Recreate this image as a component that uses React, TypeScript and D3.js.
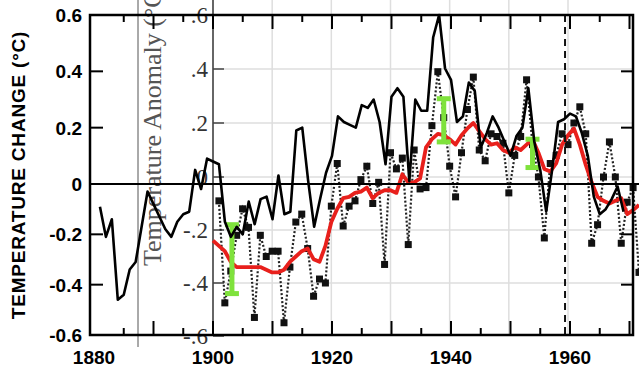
import * as d3 from "d3";
import { useEffect, useRef } from "react";

// chart 1: temperature change (deg C), yearly line
const changeYears = d3.range(1881, 1970);
const changeValues = [
  -0.09, -0.21, -0.14, -0.46, -0.44, -0.34, -0.31, -0.17, -0.03,
  -0.08, -0.13, -0.18, -0.21, -0.15, -0.12, -0.11, 0.05, -0.02, 0.09,
  0.08, 0.07, -0.15, -0.21, -0.17, -0.2, -0.07, -0.16, -0.06, -0.05,
  -0.14, 0.03, -0.12, -0.11, 0.19, 0.2, 0.01, -0.17, -0.06, 0.04,
  0.1, 0.24, 0.22, 0.21, 0.2, 0.28, 0.27, 0.3, 0.22, 0.07,
  0.31, 0.34, 0.31, 0.01, 0.3, 0.26, 0.26, 0.52, 0.6, 0.41,
  0.37, 0.22, 0.24, 0.36, 0.33, 0.13, 0.18, 0.24, 0.2, 0.15,
  0.1, 0.17, 0.2, 0.34, 0.15, 0.05, -0.11, 0.05, 0.22, 0.23,
  0.25, 0.24, 0.18, 0.1, -0.05, -0.12, -0.1, -0.06, -0.01, -0.11,
];
const changeTicks = [-0.6, -0.4, -0.2, 0, 0.2, 0.4, 0.6];
const changeLabels = ["-0.6", "-0.4", "-0.2", "0", "0.2", "0.4", "0.6"];
const yearLabels = [1880, 1900, 1920, 1940, 1960];

// chart 2: temperature anomaly, annual points + running mean
const annualYears = d3.range(1901, 1973);
const annualValues = [
  -0.09, -0.475, -0.355, -0.22, -0.12, -0.19, -0.53, -0.22, -0.3,
  -0.28, -0.28, -0.55, -0.34, -0.17, -0.14, -0.27, -0.45, -0.385, -0.4,
  -0.11, 0.05, -0.185, -0.11, -0.09, -0.01, 0.04, -0.1, -0.02, -0.33,
  0.09, 0.03, 0.07, -0.255, 0.1, -0.045, -0.04, 0.19, 0.39, 0.22,
  0.04, -0.075, 0.09, 0.25, 0.37, 0.1, 0.06, 0.16, 0.15, 0.125,
  -0.06, 0.08, 0.15, 0.36, 0.12, 0.0, -0.23, 0.05, 0.08, 0.16,
  0.12, 0.2, 0.26, 0.16, -0.25, -0.18, 0.0, 0.13, 0.0, -0.25,
  -0.095, -0.04, -0.36,
];
const meanYears = d3.range(1900, 1973);
const meanValues = [
  -0.24, -0.26, -0.28, -0.32, -0.34, -0.34, -0.34, -0.34, -0.34, -0.35,
  -0.36, -0.36, -0.35, -0.32, -0.3, -0.28, -0.27, -0.31, -0.32, -0.26,
  -0.17, -0.12, -0.08, -0.075, -0.06, -0.055, -0.04, -0.08, -0.06, -0.05,
  -0.05, -0.06, 0.01, -0.02, -0.02, -0.005, 0.11, 0.14, 0.16, 0.155,
  0.14, 0.12, 0.155, 0.18, 0.2, 0.17, 0.14, 0.12, 0.125, 0.1,
  0.09, 0.11, 0.1, 0.12, 0.14, 0.09, 0.03, 0.02, 0.05, 0.12,
  0.155, 0.18, 0.12, 0.045, -0.02, -0.075, -0.09, -0.1, -0.09, -0.08,
  -0.14, -0.125, -0.105,
];
const errorYears = [1903.2, 1939, 1954];
const errorLow = [-0.44, 0.13, 0.035];
const errorHigh = [-0.18, 0.29, 0.14];
const anomalyTicks = [-0.6, -0.4, -0.2, 0, 0.2, 0.4, 0.6];
const anomalyLabels = ["-.6", "-.4", "-.2", "0", ".2", ".4", ".6"];
const gridYears = [1910, 1920, 1930, 1940, 1950, 1960];
const markerYear = 1959.5;

export default function App() {
  const ref = useRef<SVGSVGElement>(null);

  useEffect(() => {
    document.body.style.margin = "0";
    const svg = d3.select(ref.current);
    svg.selectAll("*").remove();

    const x1 = d3.scaleLinear().domain([1880, 1960]).range([94, 570]);
    const y1 = d3.scaleLinear().domain([-0.6, 0, 0.6]).range([335, 184, 15]);
    const x2 = d3.scaleLinear().domain([1900, 1960]).range([213, 568]);
    const y2 = d3.scaleLinear().domain([-0.6, 0, 0.6]).range([336, 177, 15]);

    const left = 90, right = 633;
    const top = y1(0.6), bottom = y1(-0.6);

    // --- overlay chart (behind) ---
    const grid = svg.append("g").attr("stroke", "#dedede").attr("stroke-width", 1.5);
    grid.selectAll("line.v").data(gridYears).enter().append("line")
      .attr("x1", d => x2(d)).attr("x2", d => x2(d))
      .attr("y1", 0).attr("y2", y2(-0.6));
    grid.selectAll("line.h").data([-0.4, -0.2, 0, 0.2, 0.4]).enter().append("line")
      .attr("x1", x2(1900)).attr("x2", right)
      .attr("y1", d => y2(d)).attr("y2", d => y2(d));

    svg.append("line")
      .attr("x1", 138).attr("x2", 138).attr("y1", 0).attr("y2", 347)
      .attr("stroke", "#555").attr("stroke-width", 1);

    svg.append("line")
      .attr("x1", x2(1900)).attr("x2", x2(1900)).attr("y1", 0).attr("y2", y2(-0.6))
      .attr("stroke", "#333").attr("stroke-width", 1.5);
    svg.append("g").selectAll("line").data(anomalyTicks).enter().append("line")
      .attr("x1", x2(1900)).attr("x2", x2(1900) + 11)
      .attr("y1", d => y2(d)).attr("y2", d => y2(d))
      .attr("stroke", "#444").attr("stroke-width", 1.5);

    svg.append("g")
      .attr("font-family", "'Liberation Serif', 'DejaVu Serif', serif")
      .attr("font-size", 23)
      .attr("fill", "#333")
      .attr("text-anchor", "end")
      .selectAll("text").data(anomalyTicks).enter().append("text")
      .attr("x", 208)
      .attr("y", d => y2(d))
      .attr("dy", "0.35em")
      .text((d, i) => anomalyLabels[i]);

    svg.append("text")
      .attr("transform", "translate(161,266) rotate(-90)")
      .attr("font-family", "'Liberation Serif', 'DejaVu Serif', serif")
      .attr("font-size", 26)
      .attr("fill", "#555")
      .text("Temperature Anomaly (°C)");

    const dotted = d3.line<number>()
      .x((d, i) => x2(annualYears[i]))
      .y(d => y2(d));
    svg.append("path")
      .attr("d", dotted(annualValues))
      .attr("fill", "none")
      .attr("stroke", "#222")
      .attr("stroke-width", 2.2)
      .attr("stroke-dasharray", "2,2");
    svg.append("g").selectAll("rect").data(annualValues).enter().append("rect")
      .attr("x", (d, i) => x2(annualYears[i]) - 3.5)
      .attr("y", d => y2(d) - 3.5)
      .attr("width", 7).attr("height", 7)
      .attr("fill", "#111");

    const mean = d3.line<number>()
      .x((d, i) => x2(meanYears[i]))
      .y(d => y2(d));
    svg.append("path")
      .attr("d", mean(meanValues))
      .attr("fill", "none")
      .attr("stroke", "#e8201c")
      .attr("stroke-width", 3.8)
      .attr("stroke-linejoin", "round");

    const bars = svg.append("g").attr("stroke", "#7fe23c").attr("stroke-width", 5);
    errorYears.forEach((yr, i) => {
      const cx = x2(yr);
      bars.append("line").attr("x1", cx).attr("x2", cx)
        .attr("y1", y2(errorLow[i])).attr("y2", y2(errorHigh[i]));
      [errorLow[i], errorHigh[i]].forEach(v => {
        bars.append("line").attr("x1", cx - 7).attr("x2", cx + 7)
          .attr("y1", y2(v)).attr("y2", y2(v));
      });
    });

    svg.append("line")
      .attr("x1", x2(markerYear)).attr("x2", x2(markerYear))
      .attr("y1", top).attr("y2", bottom)
      .attr("stroke", "#111").attr("stroke-width", 2)
      .attr("stroke-dasharray", "7,5");

    // --- temperature change chart ---
    const line1 = d3.line<number>()
      .x((d, i) => x1(changeYears[i]))
      .y(d => y1(d));
    svg.append("path")
      .attr("d", line1(changeValues))
      .attr("fill", "none")
      .attr("stroke", "#000")
      .attr("stroke-width", 2.6)
      .attr("stroke-linejoin", "round");

    svg.append("line")
      .attr("x1", left).attr("x2", 639).attr("y1", y1(0)).attr("y2", y1(0))
      .attr("stroke", "#000").attr("stroke-width", 2);

    svg.append("path")
      .attr("d", `M${left},${top}V${bottom}H${right}V${top}Z`)
      .attr("fill", "none").attr("stroke", "#000").attr("stroke-width", 2.5);

    const ticks5 = d3.range(1885, 1971, 5);
    const tk = svg.append("g").attr("stroke", "#000").attr("stroke-width", 2);
    ticks5.forEach(yr => {
      const len = yr % 10 === 0 ? 14 : 7;
      tk.append("line").attr("x1", x1(yr)).attr("x2", x1(yr))
        .attr("y1", bottom).attr("y2", bottom - len);
      tk.append("line").attr("x1", x1(yr)).attr("x2", x1(yr))
        .attr("y1", top).attr("y2", top + len);
    });
    changeTicks.forEach(v => {
      tk.append("line").attr("x1", left).attr("x2", left + 13)
        .attr("y1", y1(v)).attr("y2", y1(v));
      tk.append("line").attr("x1", right).attr("x2", right - 12)
        .attr("y1", y1(v)).attr("y2", y1(v));
    });

    svg.append("g")
      .attr("font-family", "'Liberation Sans', Arial, sans-serif")
      .attr("font-weight", "bold")
      .attr("font-size", 19)
      .attr("text-anchor", "end")
      .selectAll("text").data(changeTicks).enter().append("text")
      .attr("x", 82)
      .attr("y", d => y1(d))
      .attr("dy", "0.36em")
      .text((d, i) => changeLabels[i]);

    svg.append("g")
      .attr("font-family", "'Liberation Sans', Arial, sans-serif")
      .attr("font-weight", "bold")
      .attr("font-size", 19)
      .attr("text-anchor", "middle")
      .selectAll("text").data(yearLabels).enter().append("text")
      .attr("x", d => x1(d))
      .attr("y", 364)
      .text(d => d);

    svg.append("text")
      .attr("transform", `translate(25,${(top + bottom) / 2}) rotate(-90)`)
      .attr("font-family", "'Liberation Sans', Arial, sans-serif")
      .attr("font-weight", "bold")
      .attr("font-size", 19)
      .attr("letter-spacing", 0.8)
      .attr("text-anchor", "middle")
      .text("TEMPERATURE CHANGE (°C)");
  }, []);

  return <svg ref={ref} width={639} height={369} style={{ display: "block", background: "#fff" }} />;
}
